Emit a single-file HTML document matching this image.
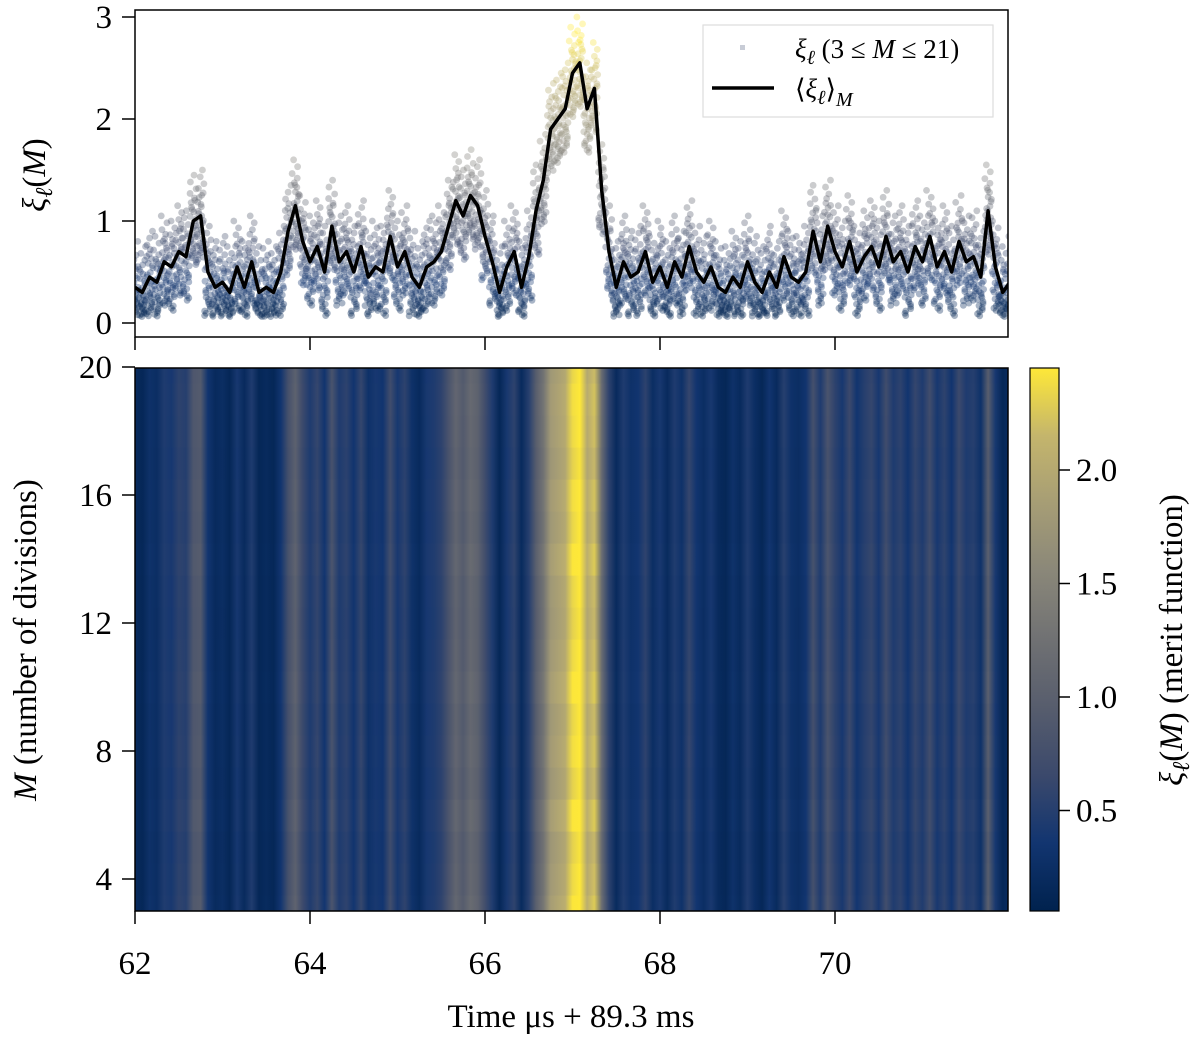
<!DOCTYPE html>
<html><head><meta charset="utf-8">
<style>
html,body{margin:0;padding:0;background:#fff;}
svg{display:block;font-family:"Liberation Serif","DejaVu Serif",serif;}
</style></head>
<body>
<svg id="chart" width="1200" height="1042" viewBox="0 0 1200 1042" xmlns="http://www.w3.org/2000/svg">
<defs>
<clipPath id="topClip"><rect x="135" y="10" width="873" height="327"/></clipPath>
<clipPath id="heatClip"><rect x="135" y="368" width="873" height="543"/></clipPath>
<linearGradient id="cbarGrad" x1="0" y1="1" x2="0" y2="0">
<stop offset="0" stop-color="#00224e"/><stop offset="0.125" stop-color="#123570"/><stop offset="0.25" stop-color="#3b496c"/><stop offset="0.375" stop-color="#575d6d"/><stop offset="0.5" stop-color="#707173"/><stop offset="0.625" stop-color="#8a8779"/><stop offset="0.75" stop-color="#a69d75"/><stop offset="0.875" stop-color="#c4b56c"/><stop offset="1" stop-color="#fee838"/>
</linearGradient>
</defs>
<g id="heat" clip-path="url(#heatClip)"></g>
<g id="scatter" clip-path="url(#topClip)"></g>
<g id="meanline" clip-path="url(#topClip)"></g>
<rect x="135" y="10" width="873" height="327" fill="none" stroke="#000" stroke-width="1.5"/>
<rect x="135" y="368" width="873" height="543" fill="none" stroke="#000" stroke-width="1.5"/>
<g id="axes"></g>
<g>
<rect x="703" y="25" width="290" height="92" fill="#fff" fill-opacity="0.85" stroke="#ddd" stroke-width="1.2"/>
<rect x="740" y="45" width="5" height="5" fill="#c8ccd6"/>
<text x="795" y="58" font-size="27"><tspan font-style="italic">ξ</tspan><tspan font-style="italic" font-size="20" dy="6">ℓ</tspan><tspan dy="-6"> (3 ≤ </tspan><tspan font-style="italic">M</tspan><tspan> ≤ 21)</tspan></text>
<line x1="712" y1="88" x2="774" y2="88" stroke="#000" stroke-width="3.5"/>
<text x="795" y="98" font-size="27">⟨<tspan font-style="italic">ξ</tspan><tspan font-style="italic" font-size="20" dy="6">ℓ</tspan><tspan dy="-6">⟩</tspan><tspan font-style="italic" font-size="20" dy="8">M</tspan></text>
</g>
<rect x="1030" y="368" width="29" height="543" fill="url(#cbarGrad)" stroke="#000" stroke-width="1.2"/>
<text transform="translate(45,175) rotate(-90)" text-anchor="middle" font-size="33"><tspan font-style="italic">ξ</tspan><tspan font-style="italic" font-size="24" dy="7">ℓ</tspan><tspan dy="-7">(</tspan><tspan font-style="italic">M</tspan><tspan>)</tspan></text>
<text transform="translate(36,640) rotate(-90)" text-anchor="middle" font-size="33"><tspan font-style="italic">M</tspan> (number of divisions)</text>
<text x="571" y="1027" text-anchor="middle" font-size="33">Time μs + 89.3 ms</text>
<text transform="translate(1182,640) rotate(-90)" text-anchor="middle" font-size="33"><tspan font-style="italic">ξ</tspan><tspan font-style="italic" font-size="24" dy="7">ℓ</tspan><tspan dy="-7">(</tspan><tspan font-style="italic">M</tspan><tspan>) (merit function)</tspan></text>
</svg>
<script>
const times0 = 62, timeStep = 1/12;
const meanValues = [0.35,0.3,0.45,0.4,0.6,0.55,0.7,0.65,1.0,1.05,0.5,0.35,0.4,0.3,0.55,0.35,0.6,0.3,0.35,0.3,0.5,0.9,1.15,0.8,0.6,0.75,0.5,0.95,0.6,0.7,0.5,0.75,0.45,0.55,0.5,0.85,0.55,0.7,0.45,0.35,0.55,0.6,0.7,0.95,1.2,1.05,1.25,1.15,0.85,0.6,0.3,0.55,0.7,0.35,0.65,1.1,1.4,1.9,2.0,2.1,2.45,2.55,2.1,2.3,1.3,0.7,0.35,0.6,0.45,0.5,0.7,0.4,0.55,0.35,0.6,0.45,0.75,0.5,0.4,0.55,0.35,0.3,0.45,0.35,0.6,0.4,0.3,0.5,0.35,0.65,0.45,0.4,0.5,0.9,0.6,0.95,0.7,0.55,0.8,0.5,0.65,0.75,0.55,0.85,0.6,0.7,0.5,0.75,0.6,0.85,0.55,0.7,0.5,0.8,0.6,0.65,0.45,1.1,0.55,0.3,0.4];
const rowM = [3,4,5,6,7,8,9,10,11,12,13,14,15,16,17,18,19,20];
const rowFactor = [1.0,0.97,0.95,1.0,0.95,0.98,0.96,1.0,0.97,0.95,0.96,1.0,0.96,0.98,0.95,0.97,0.98,0.96];
const scatterDev = [-0.95,-0.8,-0.9,-0.6,-0.7,-0.4,-0.5,-0.2,-0.3,0.0,0.1,-0.1,0.3,0.2,0.5,0.4,0.7,0.85,1.0,-0.85,-0.75,-0.55,-0.65,-0.35,-0.45,-0.15,0.05,0.25,0.45,0.6];
const scatterJitter = [-0.4,0.1,0.35,-0.2,0.45,-0.05,0.25,-0.35,0.0,0.4,-0.15,0.2,-0.45,0.3,-0.25,0.05,0.15,-0.3,0.38];
const xTicks = [62,64,66,68,70];
const topYTicks = [0,1,2,3];
const mTicks = [4,8,12,16,20];
const cbTicks = [0.5,1.0,1.5,2.0];

const NS="http://www.w3.org/2000/svg";
const X = t => 135 + (t-62)*87.5;
const YT = v => 323 - v*102;
const YM = m => 911 - (m-3)*32;
const YC = v => 470 - (v-2.0)*227;
const cmap = [[0,34,78],[18,53,112],[59,73,108],[87,93,109],[112,113,115],[138,135,121],[166,157,117],[196,181,108],[254,232,56]];
function color(v,lo,hi){let f=(v-lo)/(hi-lo);f=Math.max(0,Math.min(1,f))*8;const i=Math.min(7,Math.floor(f)),r=f-i;const a=cmap[i],b=cmap[i+1];return 'rgb('+a.map((c,k)=>Math.round(c+(b[k]-c)*r)).join(',')+')';}
function mk(tag,attrs,parent){const e=document.createElementNS(NS,tag);for(const k in attrs)e.setAttribute(k,attrs[k]);parent.appendChild(e);return e;}

const defs=document.querySelector('defs'), heat=document.getElementById('heat');
const n=meanValues.length;
rowM.forEach((m,r)=>{
  const g=mk('linearGradient',{id:'row'+r,x1:'0',y1:'0',x2:'1',y2:'0'},defs);
  meanValues.forEach((v,i)=>{
    const hv=Math.max(0.05,(v-0.17)*1.07*rowFactor[r]);
    mk('stop',{offset:(i/(n-1)).toFixed(4),'stop-color':color(hv,0.055,2.45)},g);
  });
  const y0=Math.max(368,YM(m+0.5)), y1=Math.min(911,YM(m-0.5));
  const rc=mk('rect',{x:X(times0),y:y0,width:X(times0+(n-1)*timeStep)-X(times0),height:y1-y0+0.6,fill:'url(#row'+r+')'},heat);
  
  
});

const sc=document.getElementById('scatter');
meanValues.forEach((v,i)=>{
  scatterDev.forEach((d,k)=>{
    const down=Math.min(1,Math.max(0,(v-0.05)/0.45));
    const val=v+d*0.45*(d<0?down:1);
    const t=times0+(i+scatterJitter[(k+i*5)%scatterJitter.length])*timeStep;
    const c=mk('circle',{cx:X(t),cy:YT(val),r:3.4,fill:color(val,0.05,2.8),'fill-opacity':0.35},sc);
    
    
  });
});

const ml=document.getElementById('meanline');
const pts=meanValues.map((v,i)=>X(times0+i*timeStep).toFixed(1)+','+YT(v).toFixed(1)).join(' ');
const pl=mk('polyline',{points:pts,fill:'none',stroke:'#000','stroke-width':3.5,'stroke-linejoin':'round'},ml);



const ax=document.getElementById('axes');
function tick(x1,y1,x2,y2){const l=mk('line',{x1,y1,x2,y2,stroke:'#000','stroke-width':1.5},ax);}
function label(x,y,txt,anchor){const t=mk('text',{x,y,'font-size':33,'text-anchor':anchor},ax);t.textContent=txt;}
xTicks.forEach(t=>{tick(X(t),337,X(t),350);tick(X(t),911,X(t),924);label(X(t),974,String(t),'middle');});
topYTicks.forEach(v=>{tick(122,YT(v),135,YT(v));label(112,YT(v)+11,String(v),'end');});
mTicks.forEach(m=>{tick(122,YM(m),135,YM(m));label(112,YM(m)+11,String(m),'end');});
cbTicks.forEach(v=>{tick(1059,YC(v),1070,YC(v));label(1076,YC(v)+11,v.toFixed(1),'start');});
</script>
</body></html>
